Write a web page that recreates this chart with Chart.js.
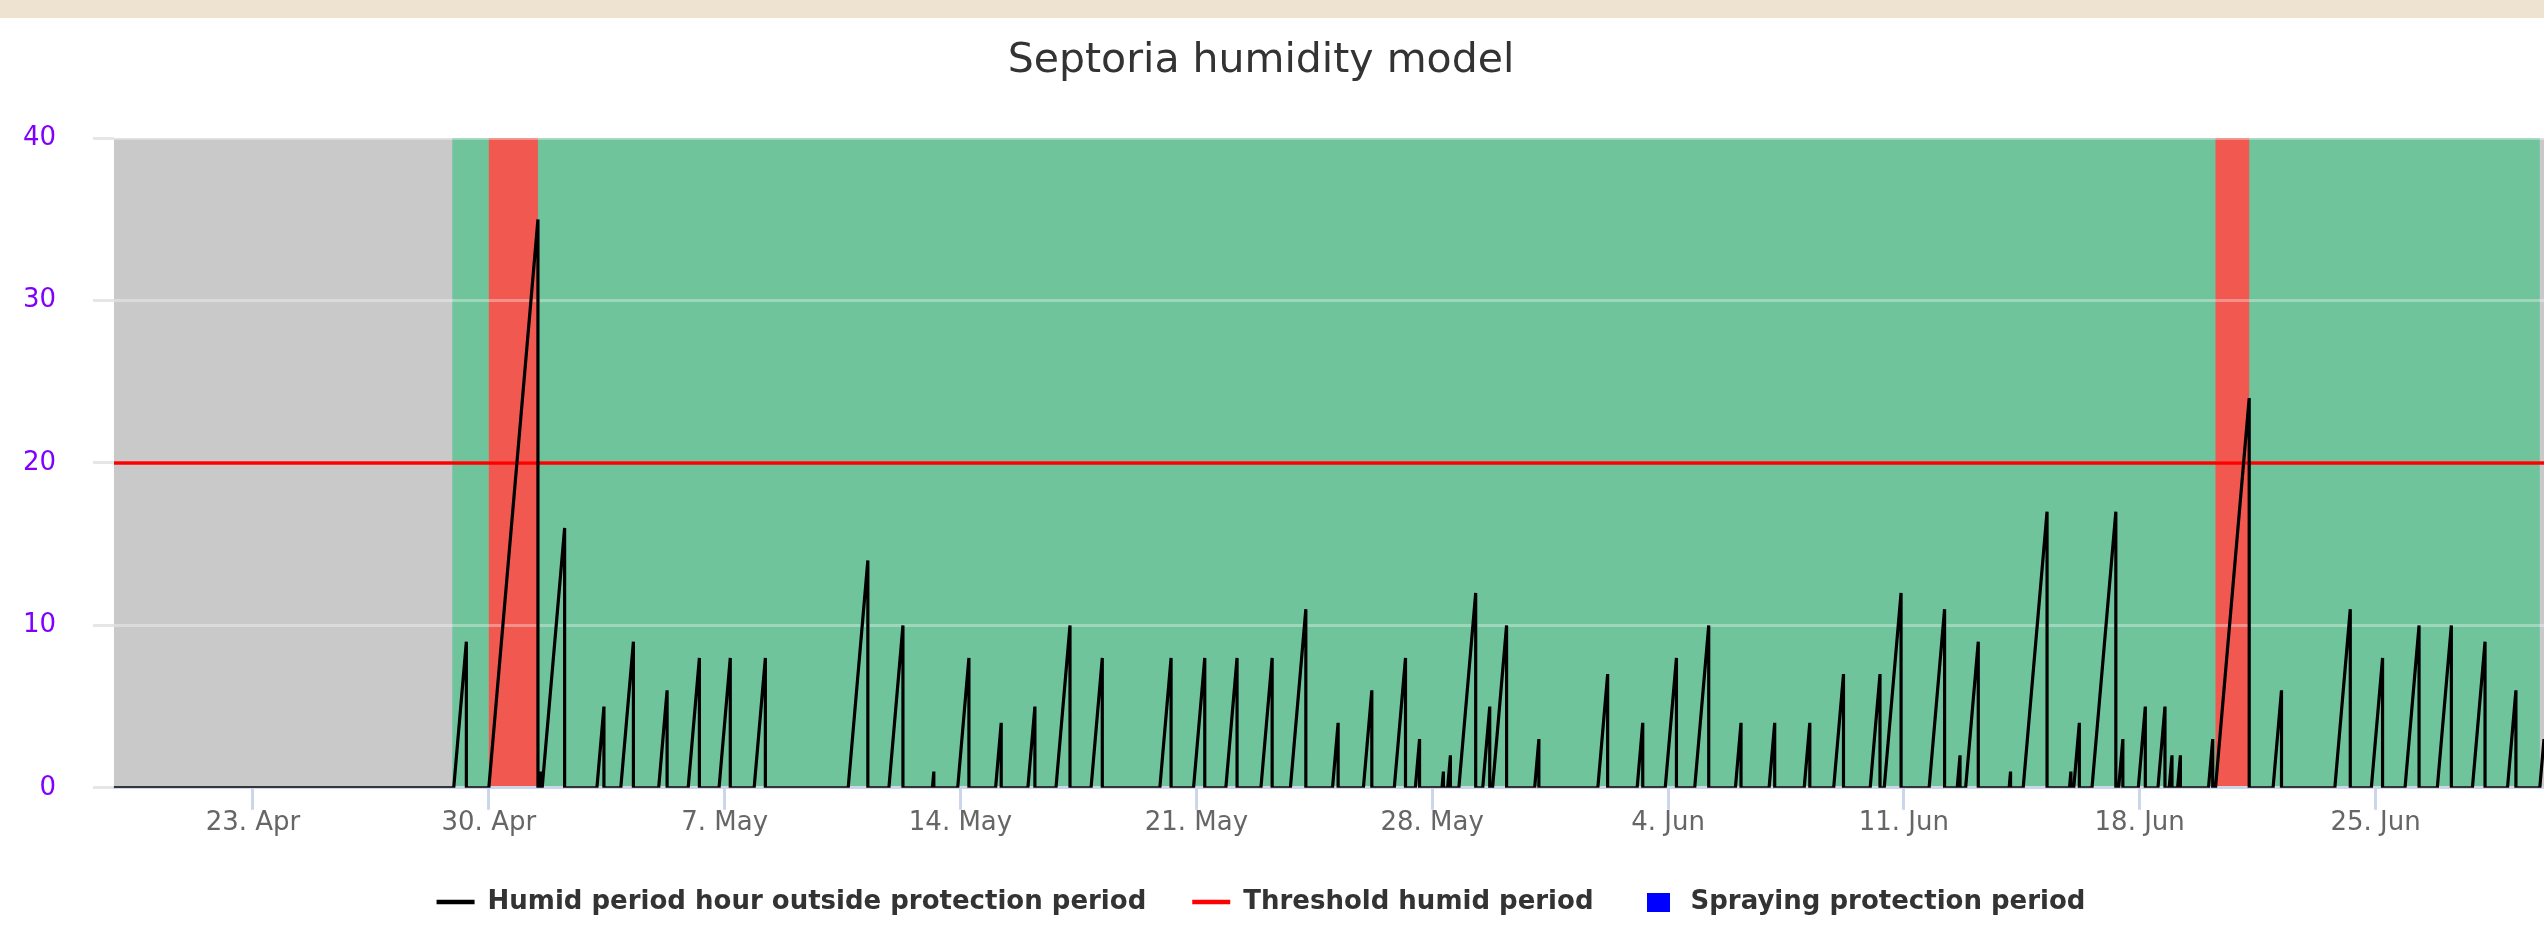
<!DOCTYPE html>
<html>
<head>
<meta charset="utf-8">
<title>Septoria humidity model</title>
<script src="https://cdn.jsdelivr.net/npm/chart.js@4.4.1/dist/chart.umd.min.js"></script>
<style>
  html, body { margin: 0; padding: 0; background: #ffffff; }
  #wrap { position: relative; width: 2544px; height: 927px; overflow: hidden; }
  #topBar { position: absolute; left: 0; top: 0; width: 2544px; height: 18px; background: #ede3d0; }
  #humidChart { position: absolute; left: -22px; top: 0; }
</style>
</head>
<body>
<div id="wrap">
  <div id="topBar"></div>
  <canvas id="humidChart" width="2566" height="927"></canvas>
</div>

<script>
// x values are hours counted from 30. Apr 00:00
const xStart = -267;
const xEnd = 1464;

// weekly ticks
const tickHours = [-168, 0, 168, 336, 504, 672, 840, 1008, 1176, 1344];
const tickLabels = ['23. Apr', '30. Apr', '7. May', '14. May', '21. May', '28. May', '4. Jun', '11. Jun', '18. Jun', '25. Jun'];

// y axis
const yTicks = [0, 10, 20, 30, 40];

// humid periods: hour the count starts rising, hour of the peak, peak value (hours)
const humidRise = [-25, 0, 36, 38, 77, 94, 121, 142, 164, 189, 256, 285, 316, 334, 361, 384, 404, 429, 478, 502,
  525, 550, 571, 601, 623, 645, 660, 679, 683, 691, 708, 715, 745, 790, 818, 838, 859, 888, 912, 937,
  958, 984, 994, 1026, 1046, 1052, 1083, 1093, 1126, 1129, 1142, 1161, 1175, 1189, 1197, 1203, 1225, 1230, 1271, 1315,
  1341, 1365, 1388, 1413, 1438, 1461];
const humidPeakAt = [-16, 35, 37, 54, 82, 103, 127, 150, 172, 197, 270, 295, 317, 342, 365, 389, 414, 437, 486, 510,
  533, 558, 582, 605, 629, 653, 663, 680, 685, 703, 713, 725, 748, 797, 822, 846, 869, 892, 916, 941,
  965, 991, 1006, 1037, 1048, 1061, 1084, 1110, 1127, 1133, 1159, 1164, 1180, 1194, 1199, 1205, 1228, 1254, 1277, 1326,
  1349, 1375, 1398, 1422, 1444, 1464];
const humidPeak = [9, 35, 1, 16, 5, 9, 6, 8, 8, 8, 14, 10, 1, 8, 4, 5, 10, 8, 8, 8,
  8, 8, 11, 4, 6, 8, 3, 1, 2, 12, 5, 10, 3, 7, 4, 8, 10, 4, 4, 4,
  7, 7, 12, 11, 2, 9, 1, 17, 1, 4, 17, 3, 5, 5, 2, 2, 3, 24, 6, 11,
  8, 10, 10, 9, 6, 3];

const thresholdValue = 20;

// background periods
const seasonStart = -26;   // before this: grey (no model)
const seasonEnd = 1461;    // after this: grey
const riskStart = [0, 1230];
const riskEnd = [35, 1254];

const seriesNames = ['Humid period hour outside protection period', 'Threshold humid period', 'Spraying protection period'];

document.addEventListener("DOMContentLoaded", () => {

    // build the line: flat at 0, rise to the peak, drop back to 0
    const humidPoints = [{x: xStart, y: 0}];
    for (let i = 0; i < humidPeak.length; i++) {
        humidPoints.push({x: humidRise[i], y: 0});
        humidPoints.push({x: humidPeakAt[i], y: humidPeak[i]});
        if (humidPeakAt[i] < xEnd) {
            humidPoints.push({x: humidPeakAt[i], y: 0});
        }
    }

    // background bands (grey / green / red)
    const bandPlugin = {
        id: 'bandPlugin',
        beforeDraw(chart) {
            const {ctx, chartArea, scales} = chart;
            const x = scales.x;
            const fillBand = (from, to, color) => {
                const x1 = Math.max(x.getPixelForValue(from), chartArea.left);
                const x2 = Math.min(x.getPixelForValue(to), chartArea.right);
                ctx.fillStyle = color;
                ctx.fillRect(x1, chartArea.top, x2 - x1, chartArea.bottom - chartArea.top);
            };
            ctx.save();
            fillBand(xStart, xEnd, '#c9c9c9');
            fillBand(seasonStart, seasonEnd, '#6fc49b');
            for (let i = 0; i < riskStart.length; i++) {
                fillBand(riskStart[i], riskEnd[i], '#f05850');
            }
            ctx.restore();
        }
    };

    // blue box for the legend
    const blueBox = document.createElement('canvas');
    blueBox.width = 23;
    blueBox.height = 19;
    const bctx = blueBox.getContext('2d');
    bctx.fillStyle = '#0000ff';
    bctx.fillRect(0, 0, 23, 19);

    const ctx = document.getElementById('humidChart').getContext('2d');
    new Chart(ctx, {
        type: 'line',
        data: {
            datasets: [{
                label: seriesNames[0],
                data: humidPoints,
                borderColor: '#000000',
                backgroundColor: '#000000',
                borderWidth: 3.2,
                pointRadius: 0,
                pointStyle: 'line',
                tension: 0,
                fill: false
            }, {
                label: seriesNames[1],
                data: [{x: xStart, y: thresholdValue}, {x: xEnd, y: thresholdValue}],
                borderColor: '#ff0000',
                backgroundColor: '#ff0000',
                borderWidth: 3.6,
                pointRadius: 0,
                pointStyle: 'line',
                fill: false
            }, {
                label: seriesNames[2],
                data: [],
                borderColor: '#0000ff',
                backgroundColor: '#0000ff',
                borderWidth: 0,
                pointRadius: 0,
                pointStyle: blueBox
            }]
        },
        options: {
            responsive: false,
            devicePixelRatio: 1,
            animation: false,
            layout: { padding: { left: 0, right: 0, top: 0, bottom: 2 } },
            plugins: {
                title: {
                    display: true,
                    text: 'Septoria humidity model',
                    color: '#333333',
                    font: { family: 'DejaVu Sans', size: 41, weight: 'normal' },
                    padding: { top: 37, bottom: 52 }
                },
                legend: {
                    position: 'bottom',
                    labels: {
                        usePointStyle: true,
                        pointStyleWidth: 38,
                        padding: 46,
                        color: '#333333',
                        font: { family: 'DejaVu Sans', size: 26, weight: 'bold' },
                        generateLabels: chart => {
                            const items = Chart.defaults.plugins.legend.labels.generateLabels(chart);
                            items.forEach((item, i) => {
                                if (i < 2) item.lineWidth = 4.5;
                            });
                            return items;
                        }
                    }
                },
                tooltip: { enabled: false }
            },
            scales: {
                x: {
                    type: 'linear',
                    min: xStart,
                    max: xEnd,
                    afterBuildTicks: axis => {
                        axis.ticks = tickHours.map(v => ({ value: v }));
                    },
                    afterFit: axis => {
                        axis.height += 6;
                    },
                    grid: {
                        drawOnChartArea: false,
                        drawTicks: true,
                        tickLength: 22,
                        tickColor: '#ccd6eb',
                        tickWidth: 3
                    },
                    border: { color: '#ccd6eb', width: 3 },
                    ticks: {
                        autoSkip: false,
                        maxRotation: 0,
                        padding: -2,
                        color: '#666666',
                        font: { family: 'DejaVu Sans', size: 26 },
                        callback: value => tickLabels[tickHours.indexOf(value)]
                    }
                },
                y: {
                    min: 0,
                    max: 40,
                    afterBuildTicks: axis => {
                        axis.ticks = yTicks.map(v => ({ value: v }));
                    },
                    afterFit: axis => {
                        axis.width = 136;
                    },
                    grid: {
                        color: 'rgba(255,255,255,0.33)',
                        lineWidth: 3,
                        tickColor: '#e6e6e6',
                        tickLength: 21
                    },
                    border: { display: false },
                    ticks: {
                        padding: 37,
                        color: '#8000ff',
                        font: { family: 'DejaVu Sans', size: 26 }
                    }
                }
            }
        },
        plugins: [bandPlugin]
    });
});
</script>
</body>
</html>
